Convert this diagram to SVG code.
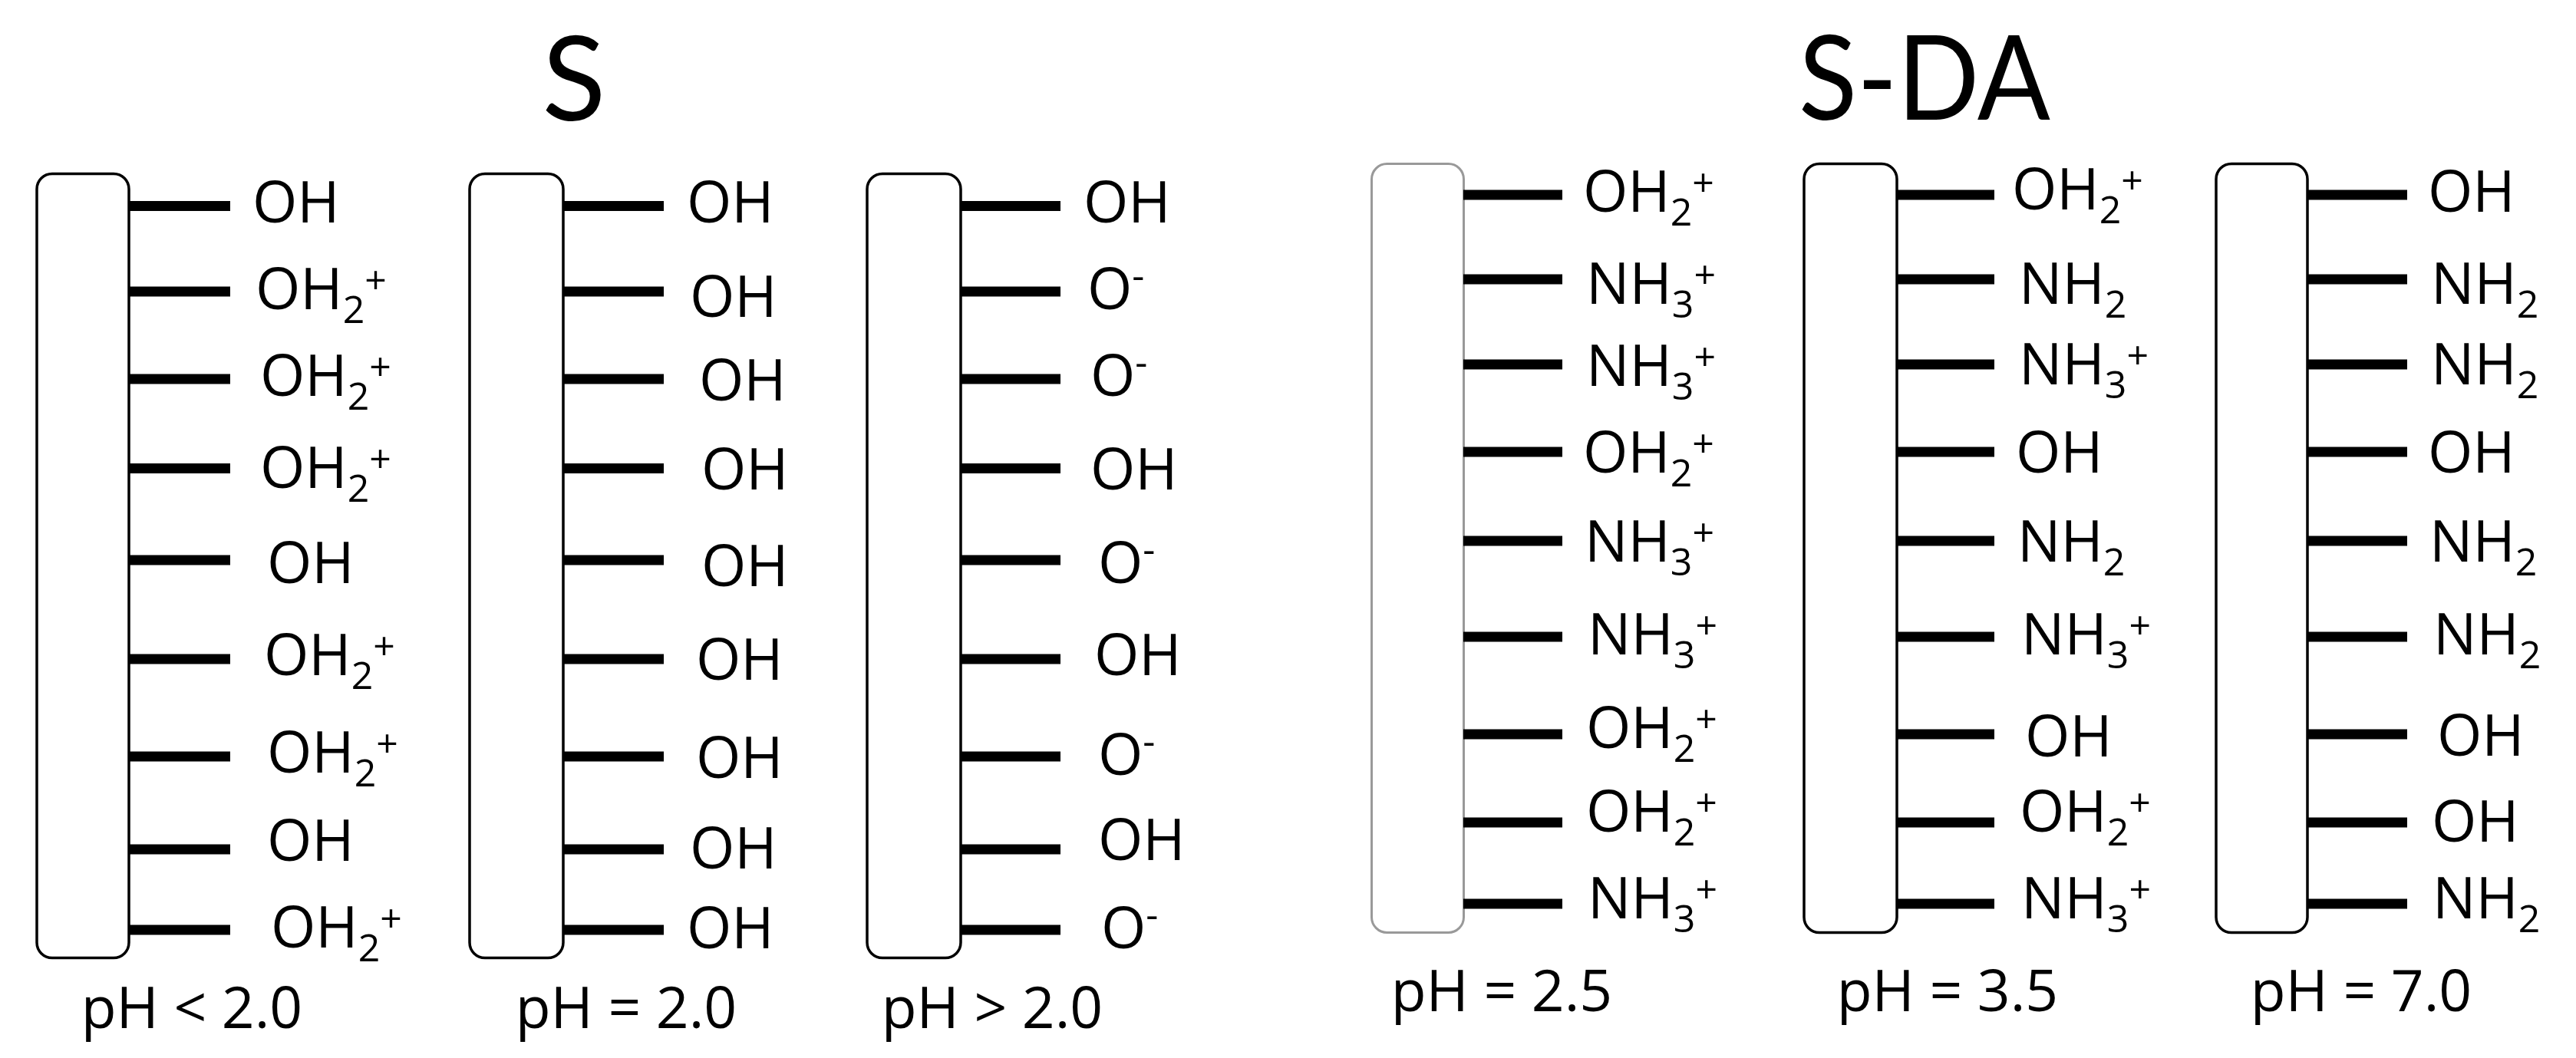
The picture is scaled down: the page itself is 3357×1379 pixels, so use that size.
<svg xmlns="http://www.w3.org/2000/svg" width="3357" height="1379" viewBox="0 0 3357 1379">
<style>
.surf{fill:#fff;stroke:#000;stroke-width:3.5}
.surf.g{stroke:#999;stroke-width:3}
.bond{stroke:#000;stroke-width:13;stroke-linecap:butt}
text{font-family:"Open Sans","Noto Sans","Liberation Sans",sans-serif;fill:#000}
.lbl{font-size:75px}
.s{font-size:50px}
.ph{font-size:75px;text-anchor:middle}
.title{font-family:Lato,"Open Sans",sans-serif;font-size:153px;text-anchor:middle}
</style>
<rect width="3357" height="1379" fill="#fff"/>
<g id="titles">
<text class="title" x="748" y="157">S</text>
<text class="title" x="2508" y="156" textLength="328" lengthAdjust="spacingAndGlyphs">S-DA</text>
</g>

<g id="s-ph-lt-2">
<rect class="surf" x="48" y="226.5" width="120" height="1022" rx="20"/>
<g>
<line class="bond" x1="168" y1="268.5" x2="300" y2="268.5"/>
<line class="bond" x1="168" y1="380" x2="300" y2="380"/>
<line class="bond" x1="168" y1="494" x2="300" y2="494"/>
<line class="bond" x1="168" y1="610.5" x2="300" y2="610.5"/>
<line class="bond" x1="168" y1="730" x2="300" y2="730"/>
<line class="bond" x1="168" y1="859" x2="300" y2="859"/>
<line class="bond" x1="168" y1="986" x2="300" y2="986"/>
<line class="bond" x1="168" y1="1107" x2="300" y2="1107"/>
<line class="bond" x1="168" y1="1212" x2="300" y2="1212"/>
</g>
<text class="lbl" x="329" y="289.5">OH</text>
<text class="lbl" x="333" y="403">OH<tspan class="s" dy="18">2</tspan><tspan class="s" dy="-38">+</tspan></text>
<text class="lbl" x="339" y="516">OH<tspan class="s" dy="18">2</tspan><tspan class="s" dy="-38">+</tspan></text>
<text class="lbl" x="339" y="636">OH<tspan class="s" dy="18">2</tspan><tspan class="s" dy="-38">+</tspan></text>
<text class="lbl" x="348" y="760">OH</text>
<text class="lbl" x="344" y="880">OH<tspan class="s" dy="18">2</tspan><tspan class="s" dy="-38">+</tspan></text>
<text class="lbl" x="348" y="1007">OH<tspan class="s" dy="18">2</tspan><tspan class="s" dy="-38">+</tspan></text>
<text class="lbl" x="348" y="1121.5">OH</text>
<text class="lbl" x="353" y="1235">OH<tspan class="s" dy="18">2</tspan><tspan class="s" dy="-38">+</tspan></text>
<text class="ph" x="250" y="1340">pH &lt; 2.0</text>
</g>

<g id="s-ph-eq-2">
<rect class="surf" x="612" y="226.5" width="122" height="1022" rx="20"/>
<g>
<line class="bond" x1="734" y1="268.5" x2="865" y2="268.5"/>
<line class="bond" x1="734" y1="380" x2="865" y2="380"/>
<line class="bond" x1="734" y1="494" x2="865" y2="494"/>
<line class="bond" x1="734" y1="610.5" x2="865" y2="610.5"/>
<line class="bond" x1="734" y1="730" x2="865" y2="730"/>
<line class="bond" x1="734" y1="859" x2="865" y2="859"/>
<line class="bond" x1="734" y1="986" x2="865" y2="986"/>
<line class="bond" x1="734" y1="1107" x2="865" y2="1107"/>
<line class="bond" x1="734" y1="1212" x2="865" y2="1212"/>
</g>
<text class="lbl" x="895" y="290">OH</text>
<text class="lbl" x="899" y="413">OH</text>
<text class="lbl" x="911" y="522">OH</text>
<text class="lbl" x="914" y="638">OH</text>
<text class="lbl" x="914" y="764">OH</text>
<text class="lbl" x="907" y="886">OH</text>
<text class="lbl" x="907" y="1014">OH</text>
<text class="lbl" x="899" y="1132">OH</text>
<text class="lbl" x="895" y="1236">OH</text>
<text class="ph" x="816" y="1340">pH = 2.0</text>
</g>

<g id="s-ph-gt-2">
<rect class="surf" x="1130" y="226.5" width="122" height="1022" rx="20"/>
<g>
<line class="bond" x1="1252" y1="268.5" x2="1382" y2="268.5"/>
<line class="bond" x1="1252" y1="380" x2="1382" y2="380"/>
<line class="bond" x1="1252" y1="494" x2="1382" y2="494"/>
<line class="bond" x1="1252" y1="610.5" x2="1382" y2="610.5"/>
<line class="bond" x1="1252" y1="730" x2="1382" y2="730"/>
<line class="bond" x1="1252" y1="859" x2="1382" y2="859"/>
<line class="bond" x1="1252" y1="986" x2="1382" y2="986"/>
<line class="bond" x1="1252" y1="1107" x2="1382" y2="1107"/>
<line class="bond" x1="1252" y1="1212" x2="1382" y2="1212"/>
</g>
<text class="lbl" x="1412" y="290">OH</text>
<text class="lbl" x="1417" y="403">O<tspan class="s" dy="-26">-</tspan></text>
<text class="lbl" x="1421" y="516">O<tspan class="s" dy="-26">-</tspan></text>
<text class="lbl" x="1421" y="638">OH</text>
<text class="lbl" x="1431" y="760">O<tspan class="s" dy="-26">-</tspan></text>
<text class="lbl" x="1426" y="880">OH</text>
<text class="lbl" x="1431" y="1010">O<tspan class="s" dy="-26">-</tspan></text>
<text class="lbl" x="1431" y="1121">OH</text>
<text class="lbl" x="1435" y="1236">O<tspan class="s" dy="-26">-</tspan></text>
<text class="ph" x="1293" y="1340">pH &gt; 2.0</text>
</g>

<g id="sda-ph-2-5">
<rect class="surf g" x="1787.5" y="213.5" width="120" height="1002" rx="20"/>
<g>
<line class="bond" x1="1907" y1="254" x2="2036" y2="254"/>
<line class="bond" x1="1907" y1="364" x2="2036" y2="364"/>
<line class="bond" x1="1907" y1="475" x2="2036" y2="475"/>
<line class="bond" x1="1907" y1="589" x2="2036" y2="589"/>
<line class="bond" x1="1907" y1="705" x2="2036" y2="705"/>
<line class="bond" x1="1907" y1="830" x2="2036" y2="830"/>
<line class="bond" x1="1907" y1="957" x2="2036" y2="957"/>
<line class="bond" x1="1907" y1="1072" x2="2036" y2="1072"/>
<line class="bond" x1="1907" y1="1178" x2="2036" y2="1178"/>
</g>
<text class="lbl" x="2063" y="276">OH<tspan class="s" dy="18">2</tspan><tspan class="s" dy="-38">+</tspan></text>
<text class="lbl" x="2067" y="396">NH<tspan class="s" dy="18">3</tspan><tspan class="s" dy="-38">+</tspan></text>
<text class="lbl" x="2067" y="503">NH<tspan class="s" dy="18">3</tspan><tspan class="s" dy="-38">+</tspan></text>
<text class="lbl" x="2063" y="616">OH<tspan class="s" dy="18">2</tspan><tspan class="s" dy="-38">+</tspan></text>
<text class="lbl" x="2065" y="732">NH<tspan class="s" dy="18">3</tspan><tspan class="s" dy="-38">+</tspan></text>
<text class="lbl" x="2069" y="853">NH<tspan class="s" dy="18">3</tspan><tspan class="s" dy="-38">+</tspan></text>
<text class="lbl" x="2067" y="975">OH<tspan class="s" dy="18">2</tspan><tspan class="s" dy="-38">+</tspan></text>
<text class="lbl" x="2067" y="1084">OH<tspan class="s" dy="18">2</tspan><tspan class="s" dy="-38">+</tspan></text>
<text class="lbl" x="2069" y="1197">NH<tspan class="s" dy="18">3</tspan><tspan class="s" dy="-38">+</tspan></text>
<text class="ph" x="1957" y="1318">pH = 2.5</text>
</g>

<g id="sda-ph-3-5">
<rect class="surf" x="2351" y="213.5" width="121" height="1002" rx="20"/>
<g>
<line class="bond" x1="2472" y1="254" x2="2599" y2="254"/>
<line class="bond" x1="2472" y1="364" x2="2599" y2="364"/>
<line class="bond" x1="2472" y1="475" x2="2599" y2="475"/>
<line class="bond" x1="2472" y1="589" x2="2599" y2="589"/>
<line class="bond" x1="2472" y1="705" x2="2599" y2="705"/>
<line class="bond" x1="2472" y1="830" x2="2599" y2="830"/>
<line class="bond" x1="2472" y1="957" x2="2599" y2="957"/>
<line class="bond" x1="2472" y1="1072" x2="2599" y2="1072"/>
<line class="bond" x1="2472" y1="1178" x2="2599" y2="1178"/>
</g>
<text class="lbl" x="2622" y="273">OH<tspan class="s" dy="18">2</tspan><tspan class="s" dy="-38">+</tspan></text>
<text class="lbl" x="2631" y="396">NH<tspan class="s" dy="18">2</tspan></text>
<text class="lbl" x="2631" y="501">NH<tspan class="s" dy="18">3</tspan><tspan class="s" dy="-38">+</tspan></text>
<text class="lbl" x="2627" y="616">OH</text>
<text class="lbl" x="2629" y="732">NH<tspan class="s" dy="18">2</tspan></text>
<text class="lbl" x="2634" y="853">NH<tspan class="s" dy="18">3</tspan><tspan class="s" dy="-38">+</tspan></text>
<text class="lbl" x="2639" y="986">OH</text>
<text class="lbl" x="2632" y="1084">OH<tspan class="s" dy="18">2</tspan><tspan class="s" dy="-38">+</tspan></text>
<text class="lbl" x="2634" y="1197">NH<tspan class="s" dy="18">3</tspan><tspan class="s" dy="-38">+</tspan></text>
<text class="ph" x="2538" y="1318">pH = 3.5</text>
</g>

<g id="sda-ph-7-0">
<rect class="surf" x="2888" y="213.5" width="119" height="1002" rx="20"/>
<g>
<line class="bond" x1="3007" y1="254" x2="3137" y2="254"/>
<line class="bond" x1="3007" y1="364" x2="3137" y2="364"/>
<line class="bond" x1="3007" y1="475" x2="3137" y2="475"/>
<line class="bond" x1="3007" y1="589" x2="3137" y2="589"/>
<line class="bond" x1="3007" y1="705" x2="3137" y2="705"/>
<line class="bond" x1="3007" y1="830" x2="3137" y2="830"/>
<line class="bond" x1="3007" y1="957" x2="3137" y2="957"/>
<line class="bond" x1="3007" y1="1072" x2="3137" y2="1072"/>
<line class="bond" x1="3007" y1="1178" x2="3137" y2="1178"/>
</g>
<text class="lbl" x="3164" y="276">OH</text>
<text class="lbl" x="3168" y="396">NH<tspan class="s" dy="18">2</tspan></text>
<text class="lbl" x="3168" y="501">NH<tspan class="s" dy="18">2</tspan></text>
<text class="lbl" x="3164" y="616">OH</text>
<text class="lbl" x="3166" y="732">NH<tspan class="s" dy="18">2</tspan></text>
<text class="lbl" x="3171" y="853">NH<tspan class="s" dy="18">2</tspan></text>
<text class="lbl" x="3176" y="985">OH</text>
<text class="lbl" x="3169" y="1097">OH</text>
<text class="lbl" x="3170" y="1197">NH<tspan class="s" dy="18">2</tspan></text>
<text class="ph" x="3077" y="1318">pH = 7.0</text>
</g>
</svg>
